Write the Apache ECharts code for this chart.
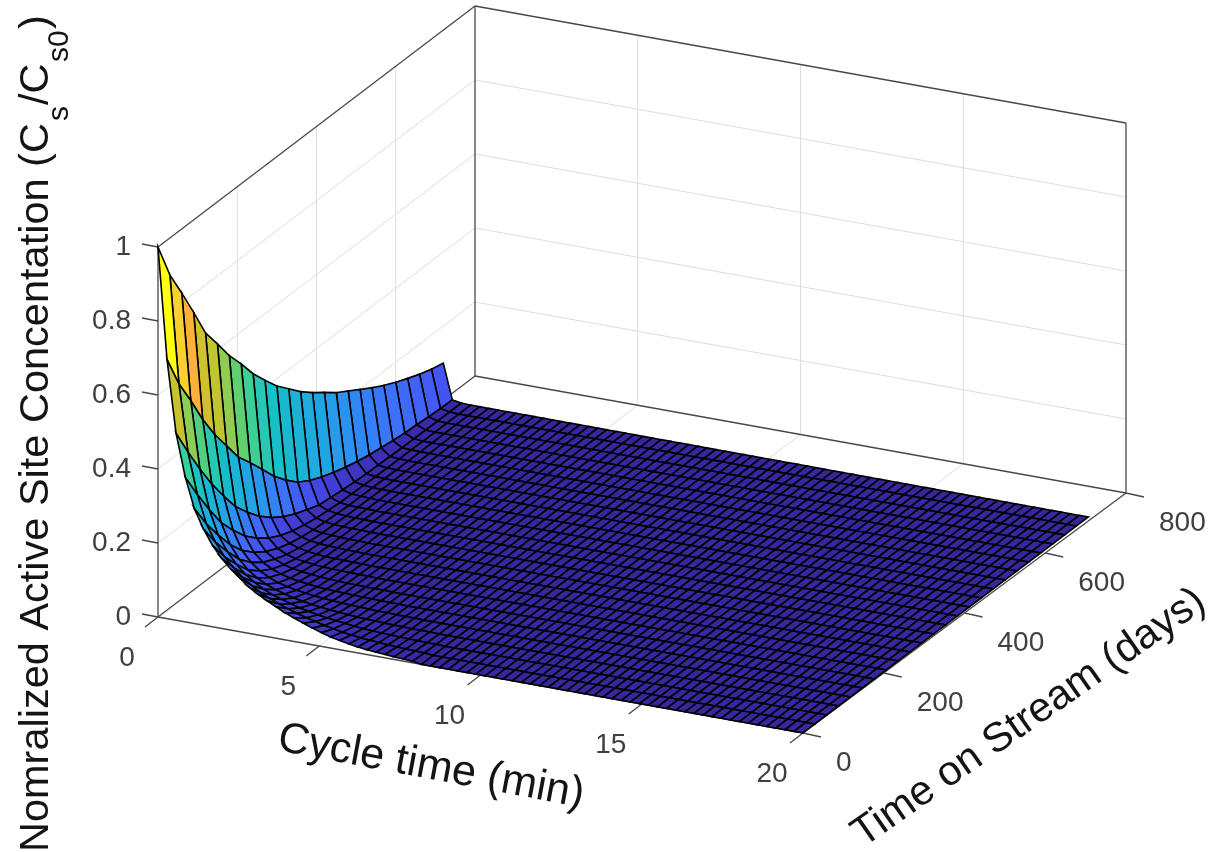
<!DOCTYPE html>
<html>
<head>
<meta charset="utf-8">
<title>Active site concentration surface</title>
<style>
  html, body { margin: 0; padding: 0; background: #fff; }
  #chart { width: 1210px; height: 852px; filter: blur(0.6px); }
</style>
<script src="https://cdn.jsdelivr.net/npm/echarts@6/dist/echarts.min.js"></script>
</head>
<body>
<div id="chart"></div>
<script>
// surface grid
var cycleTimes = [0,0.28,0.56,0.85,1.13,1.41,1.69,1.97,2.25,2.54,2.82,3.1,3.38,3.66,3.94,4.23,4.51,4.79,5.07,5.35,5.63,5.92,6.2,6.48,
  6.76,7.04,7.32,7.61,7.89,8.17,8.45,8.73,9.01,9.3,9.58,9.86,10.14,10.42,10.7,10.99,11.27,11.55,11.83,12.11,12.39,12.68,12.96,13.24,
  13.52,13.8,14.08,14.37,14.65,14.93,15.21,15.49,15.77,16.06,16.34,16.62,16.9,17.18,17.46,17.75,18.03,18.31,18.59,18.87,19.15,19.44,19.72,20];
var tosDays = [0,30,60,90,120,150,180,210,240,270,300,330,360,390,420,450,480,510,540,570,600,630,660,690,720];

// Cs/Cs0, one row per cycle time, one value per tosDays entry. Anything not listed sits on the floor (0)
var siteRows = [
  [1,.9,.827,.75,.67,.616,.56,.513,.462,.42,.38,.348,.316,.289,.265,.24,.22,.2,.18,.162,.146,.132,.119,.108,.1],
  [.7,.61,.54,.465,.4,.345,.29,.25,.208,.165,.13,.1,.08,.065,.053,.043,.034,.027,.022,.017,.013,.011,.008,.006,.005],
  [.505,.43,.36,.295,.238,.185,.145,.11,.082,.06,.043,.03,.018,.014,.01,.007,.005,.004,.003,.002,.002,.001,.001,.001,.001],
  [.39,.32,.255,.195,.15,.11,.08,.056,.038,.026,.018,.012,.008,.005,.004,.003,.002,.001,.001,.001],
  [.31,.245,.19,.14,.1,.07,.048,.032,.021,.014,.009,.006,.004,.002,.002,.001,.001],
  [.26,.2,.15,.105,.072,.048,.032,.02,.013,.008,.005,.003,.002,.001,.001],
  [.22,.165,.12,.08,.053,.034,.021,.013,.008,.005,.003,.002,.001,.001],
  [.19,.14,.097,.063,.04,.025,.015,.009,.005,.003,.002,.001,.001],
  [.165,.118,.08,.05,.03,.018,.011,.006,.003,.002,.001,.001],
  [.145,.1,.066,.04,.024,.014,.008,.004,.002,.001,.001],
  [.125,.085,.055,.033,.019,.011,.006,.003,.002,.001],
  [.11,.074,.047,.027,.015,.008,.004,.002,.001],
  [.097,.064,.04,.022,.012,.006,.003,.002,.001],
  [.085,.055,.033,.018,.01,.005,.002,.001],
  [.073,.047,.028,.015,.008,.004,.002,.001],
  [.063,.04,.023,.012,.006,.003,.001],
  [.054,.034,.019,.01,.005,.002,.001],
  [.045,.028,.016,.008,.004,.002,.001],
  [.037,.023,.013,.006,.003,.001],
  [.03,.018,.01,.005,.002,.001],
  [.025,.015,.008,.004,.002,.001],
  [.02,.012,.006,.003,.001],
  [.016,.01,.005,.002,.001],
  [.013,.008,.004,.002,.001],
  [.011,.006,.003,.001],
  [.009,.005,.002,.001],
  [.007,.004,.002,.001],
  [.006,.003,.001],
  [.004,.002,.001]
];

var cycleTicks = [0,5,10,15,20];
var tosTicks = [0,200,400,600,800];
var siteTicks = [0,0.2,0.4,0.6,0.8,1];

var cycleTitle = 'Cycle time (min)';
var tosTitle = 'Time on Stream (days)';

// colormap as it looks in the picture
var colorStops = [0,.05,.1,.15,.2,.25,.3,.42,.5,.56,.62,.67,.75,.83,.9,1];
var colorValues = ['#37279f','#3f38c8','#4450ee','#3f6cf8','#3380f8','#2a96ee','#1fa8e0','#16c0c8','#34cfa0','#5fcf70','#95cc50','#bfc530','#cfc030','#ffb03a','#f9d030','#ffff10'];

// where the floor corners of the box land on the page
var boxFloor = {a: [158, 617], b: [803, 733], c: [475, 376], d: [1126, 493]};
var meshFloor = {a: [158, 617], b: [803, 733], c: [475, 376], d: [1120, 493]};
var boxHeight = 370;
var cycleMax = 20, tosMax = 800;

function project(cy, tos, site, floor) {
    var f = floor || boxFloor;
    var u = cy / cycleMax, v = tos / tosMax;
    var x = f.a[0] * (1 - u) * (1 - v) + f.b[0] * u * (1 - v) + f.c[0] * (1 - u) * v + f.d[0] * u * v;
    var y = f.a[1] * (1 - u) * (1 - v) + f.b[1] * u * (1 - v) + f.c[1] * (1 - u) * v + f.d[1] * u * v;
    return [x, y - site * boxHeight];
}

function siteAt(i, j) {
    var row = siteRows[i];
    return row && row[j] !== undefined ? row[j] : 0;
}

function colorFor(v) {
    for (var k = 1; k < colorStops.length; k++) {
        if (v <= colorStops[k]) {
            var t = (v - colorStops[k - 1]) / (colorStops[k] - colorStops[k - 1]);
            return echarts.color.lerp(t, [colorValues[k - 1], colorValues[k]]);
        }
    }
    return colorValues[colorValues.length - 1];
}

// back to front: low cycle time first, far time on stream first
var cells = [];
for (var i = 0; i < cycleTimes.length - 1; i++) {
    for (var j = tosDays.length - 2; j >= 0; j--) {
        cells.push([i, j]);
    }
}

function segment(api, p, q, color, width) {
    var a = api.coord(p), b = api.coord(q);
    return {
        type: 'line',
        shape: {x1: a[0], y1: a[1], x2: b[0], y2: b[1]},
        style: {stroke: color, lineWidth: width}
    };
}

function label(api, p, text, size, color, align, rotation, vAlign) {
    var a = api.coord(p);
    return {
        type: 'text',
        x: a[0],
        y: a[1],
        rotation: rotation || 0,
        style: {
            text: text,
            x: 0,
            y: 0,
            fill: color,
            font: size + 'px "Liberation Sans", Arial, sans-serif',
            align: align || 'center',
            verticalAlign: vAlign || 'middle'
        }
    };
}

function renderBox(params, api) {
    var kids = [];
    var grid = '#dddddd', edge = '#484848';
    siteTicks.forEach(function (z) {
        if (z === 0 || z === 1) return;
        kids.push(segment(api, project(0, 0, z), project(0, tosMax, z), grid, 1));
        kids.push(segment(api, project(0, tosMax, z), project(cycleMax, tosMax, z), grid, 1));
    });
    tosTicks.forEach(function (t) {
        if (t === 0 || t === tosMax) return;
        kids.push(segment(api, project(0, t, 0), project(0, t, 1), grid, 1));
        kids.push(segment(api, project(0, t, 0), project(cycleMax, t, 0), grid, 1));
    });
    cycleTicks.forEach(function (c) {
        if (c === 0 || c === cycleMax) return;
        kids.push(segment(api, project(c, tosMax, 0), project(c, tosMax, 1), grid, 1));
        kids.push(segment(api, project(c, 0, 0), project(c, tosMax, 0), grid, 1));
    });
    // box edges
    var edges = [
        [[0, 0, 0], [0, 0, 1]], [[0, 0, 1], [0, tosMax, 1]], [[0, tosMax, 1], [cycleMax, tosMax, 1]],
        [[cycleMax, tosMax, 1], [cycleMax, tosMax, 0]], [[0, tosMax, 0], [0, tosMax, 1]],
        [[0, 0, 0], [0, tosMax, 0]], [[0, tosMax, 0], [cycleMax, tosMax, 0]],
        [[0, 0, 0], [cycleMax, 0, 0]], [[cycleMax, 0, 0], [cycleMax, tosMax, 0]]
    ];
    edges.forEach(function (e) {
        kids.push(segment(api, project(e[0][0], e[0][1], e[0][2]), project(e[1][0], e[1][1], e[1][2]), edge, 1.3));
    });
    // ticks and their labels
    siteTicks.forEach(function (z) {
        var p = project(0, 0, z);
        kids.push(segment(api, p, [p[0] - 16, p[1] - 3], edge, 1.3));
        kids.push(label(api, [131, p[1]], String(z), 28, '#404040', 'right'));
    });
    cycleTicks.forEach(function (c) {
        var p = project(c, 0, 0);
        kids.push(segment(api, p, [p[0] - 13, p[1] + 10], edge, 1.3));
        kids.push(label(api, [p[0] - 31, p[1] + 41], String(c), 28, '#404040', 'center'));
    });
    tosTicks.forEach(function (t) {
        var p = project(cycleMax, t, 0);
        kids.push(segment(api, p, [p[0] + 18, p[1] + 4], edge, 1.3));
        kids.push(label(api, [p[0] + 33, p[1] + 30], String(t), 28, '#404040', 'left'));
    });
    return {type: 'group', children: kids};
}

function renderCell(params, api) {
    var i = api.value(0), j = api.value(1);
    var corners = [[i, j], [i + 1, j], [i + 1, j + 1], [i, j + 1]];
    var points = corners.map(function (n) {
        return api.coord(project(cycleTimes[n[0]], tosDays[n[1]], siteAt(n[0], n[1]), meshFloor));
    });
    return {
        type: 'polygon',
        shape: {points: points},
        style: {fill: colorFor(siteAt(i, j)), stroke: '#000', lineWidth: 1.6}
    };
}

function renderTitles(params, api) {
    var ink = '#141414';
    var up = Math.PI / 2;
    return {
        type: 'group',
        children: [
            label(api, [431, 767], cycleTitle, 43, ink, 'center', -0.185),
            label(api, [1029, 718], tosTitle, 41.5, ink, 'center', 0.61),
            label(api, [37, 852], 'Nomralized Active Site Concentation (C', 41.5, ink, 'left', up),
            label(api, [60, 121], 's', 30, ink, 'left', up),
            label(api, [37, 105], '/C', 41.5, ink, 'left', up),
            label(api, [60, 62], 's0', 30, ink, 'left', up),
            label(api, [37, 29], ')', 41.5, ink, 'left', up)
        ]
    };
}

var chart = echarts.init(document.getElementById('chart'), null, {renderer: 'canvas'});
chart.setOption({
    animation: false,
    backgroundColor: '#fff',
    grid: {left: 0, right: 0, top: 0, bottom: 0},
    xAxis: {type: 'value', min: 0, max: 1210, show: false},
    yAxis: {type: 'value', min: 0, max: 852, inverse: true, show: false},
    series: [
        {type: 'custom', name: 'box', data: [[0, 0]], renderItem: renderBox, silent: true, z: 1},
        {type: 'custom', name: 'surface', data: cells, renderItem: renderCell, silent: true, z: 2, progressive: 0},
        {type: 'custom', name: 'titles', data: [[0, 0]], renderItem: renderTitles, silent: true, z: 3}
    ]
});
</script>
</body>
</html>
